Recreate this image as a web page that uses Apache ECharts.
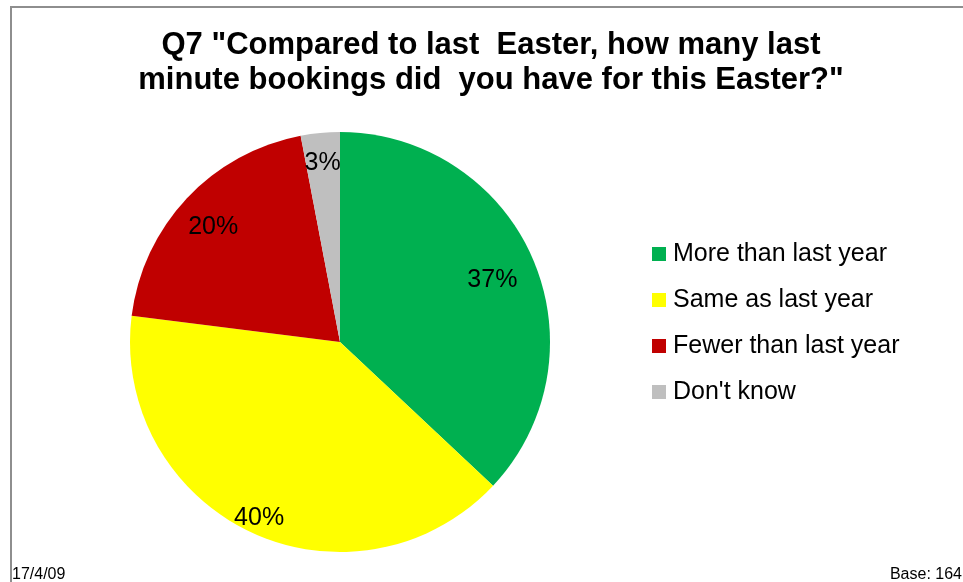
<!DOCTYPE html>
<html>
<head>
<meta charset="utf-8">
<script src="https://cdn.jsdelivr.net/npm/echarts@6/dist/echarts.min.js"></script>
<style>
  html, body { margin: 0; padding: 0; background: #fff; }
  #chart { width: 963px; height: 582px; }
</style>
</head>
<body>
<div id="chart"></div>
<script>
// Survey answers and their shares (percent of respondents)
const categories = ['More than last year', 'Same as last year', 'Fewer than last year', "Don't know"];
const shares = [37, 40, 20, 3];
const palette = ['#00B050', '#FFFF00', '#C00000', '#BFBFBF'];

const titleText = 'Q7 "Compared to last  Easter, how many last\nminute bookings did  you have for this Easter?"';
const dateNote = '17/4/09';
const baseNote = 'Base: 164';

// Layout: pie geometry and the distance of each percentage label from the centre
const PIE_CENTER = [340, 342];
const PIE_RADIUS = 210;
const LABEL_DIST = [163, 187, 171, 181];

const FONT = '"Liberation Sans", Arial, sans-serif';

const pieData = categories.map((name, i) => ({
  name: name,
  value: shares[i],
  itemStyle: { color: palette[i] }
}));

// One transparent ring per label: an 'inside' label sits halfway across its ring,
// so each ring is sized to put its own label at the wanted distance.
const labelSeries = categories.map((cat, k) => {
  const outer = PIE_RADIUS - 2;
  const inner = 2 * LABEL_DIST[k] - outer;
  return {
    type: 'pie',
    center: PIE_CENTER,
    radius: [inner, outer],
    startAngle: 90,
    clockwise: true,
    silent: true,
    emphasis: { disabled: true },
    itemStyle: { color: 'rgba(0,0,0,0)', borderWidth: 0 },
    labelLine: { show: false },
    label: {
      show: true,
      position: 'inside',
      formatter: '{c}%',
      offset: [0, 4],
      fontFamily: FONT,
      fontSize: 25,
      color: '#000000'
    },
    data: categories.map((name, i) => ({
      name: name,
      value: shares[i],
      label: { show: i === k }
    }))
  };
});

const chart = echarts.init(document.getElementById('chart'), null, { renderer: 'canvas' });

chart.setOption({
  animation: false,
  backgroundColor: '#ffffff',
  title: [
    {
      text: titleText,
      left: 491,
      textAlign: 'center',
      top: 28,
      padding: 0,
      textStyle: {
        fontFamily: FONT,
        fontWeight: 'bold',
        fontSize: 31,
        lineHeight: 35,
        color: '#000000'
      }
    },
    {
      text: dateNote,
      left: 12,
      top: 567,
      padding: 0,
      textStyle: { fontFamily: FONT, fontWeight: 'normal', fontSize: 16, color: '#000000' }
    },
    {
      text: baseNote,
      right: 1,
      top: 567,
      padding: 0,
      textStyle: { fontFamily: FONT, fontWeight: 'normal', fontSize: 16, color: '#000000' }
    }
  ],
  legend: {
    orient: 'vertical',
    left: 652,
    top: 241,
    padding: 0,
    itemWidth: 14,
    itemHeight: 14,
    itemGap: 20,
    icon: 'rect',
    selectedMode: false,
    data: categories.map((name, i) => ({ name: name, itemStyle: { color: palette[i] } })),
    textStyle: {
      fontFamily: FONT,
      fontSize: 25,
      lineHeight: 26,
      padding: [0, 0, 0, 2],
      color: '#000000'
    }
  },
  graphic: [
    {
      type: 'rect',
      shape: { x: 11, y: 7, width: 1200, height: 1200 },
      style: { fill: 'none', stroke: '#8e8e8e', lineWidth: 2 },
      silent: true,
      z: -1
    }
  ],
  series: [
    {
      // the slices
      type: 'pie',
      center: PIE_CENTER,
      radius: PIE_RADIUS,
      startAngle: 90,
      clockwise: true,
      silent: true,
      label: { show: false },
      labelLine: { show: false },
      emphasis: { disabled: true },
      itemStyle: { borderWidth: 0 },
      data: pieData
    }
  ].concat(labelSeries)
});
</script>
</body>
</html>
